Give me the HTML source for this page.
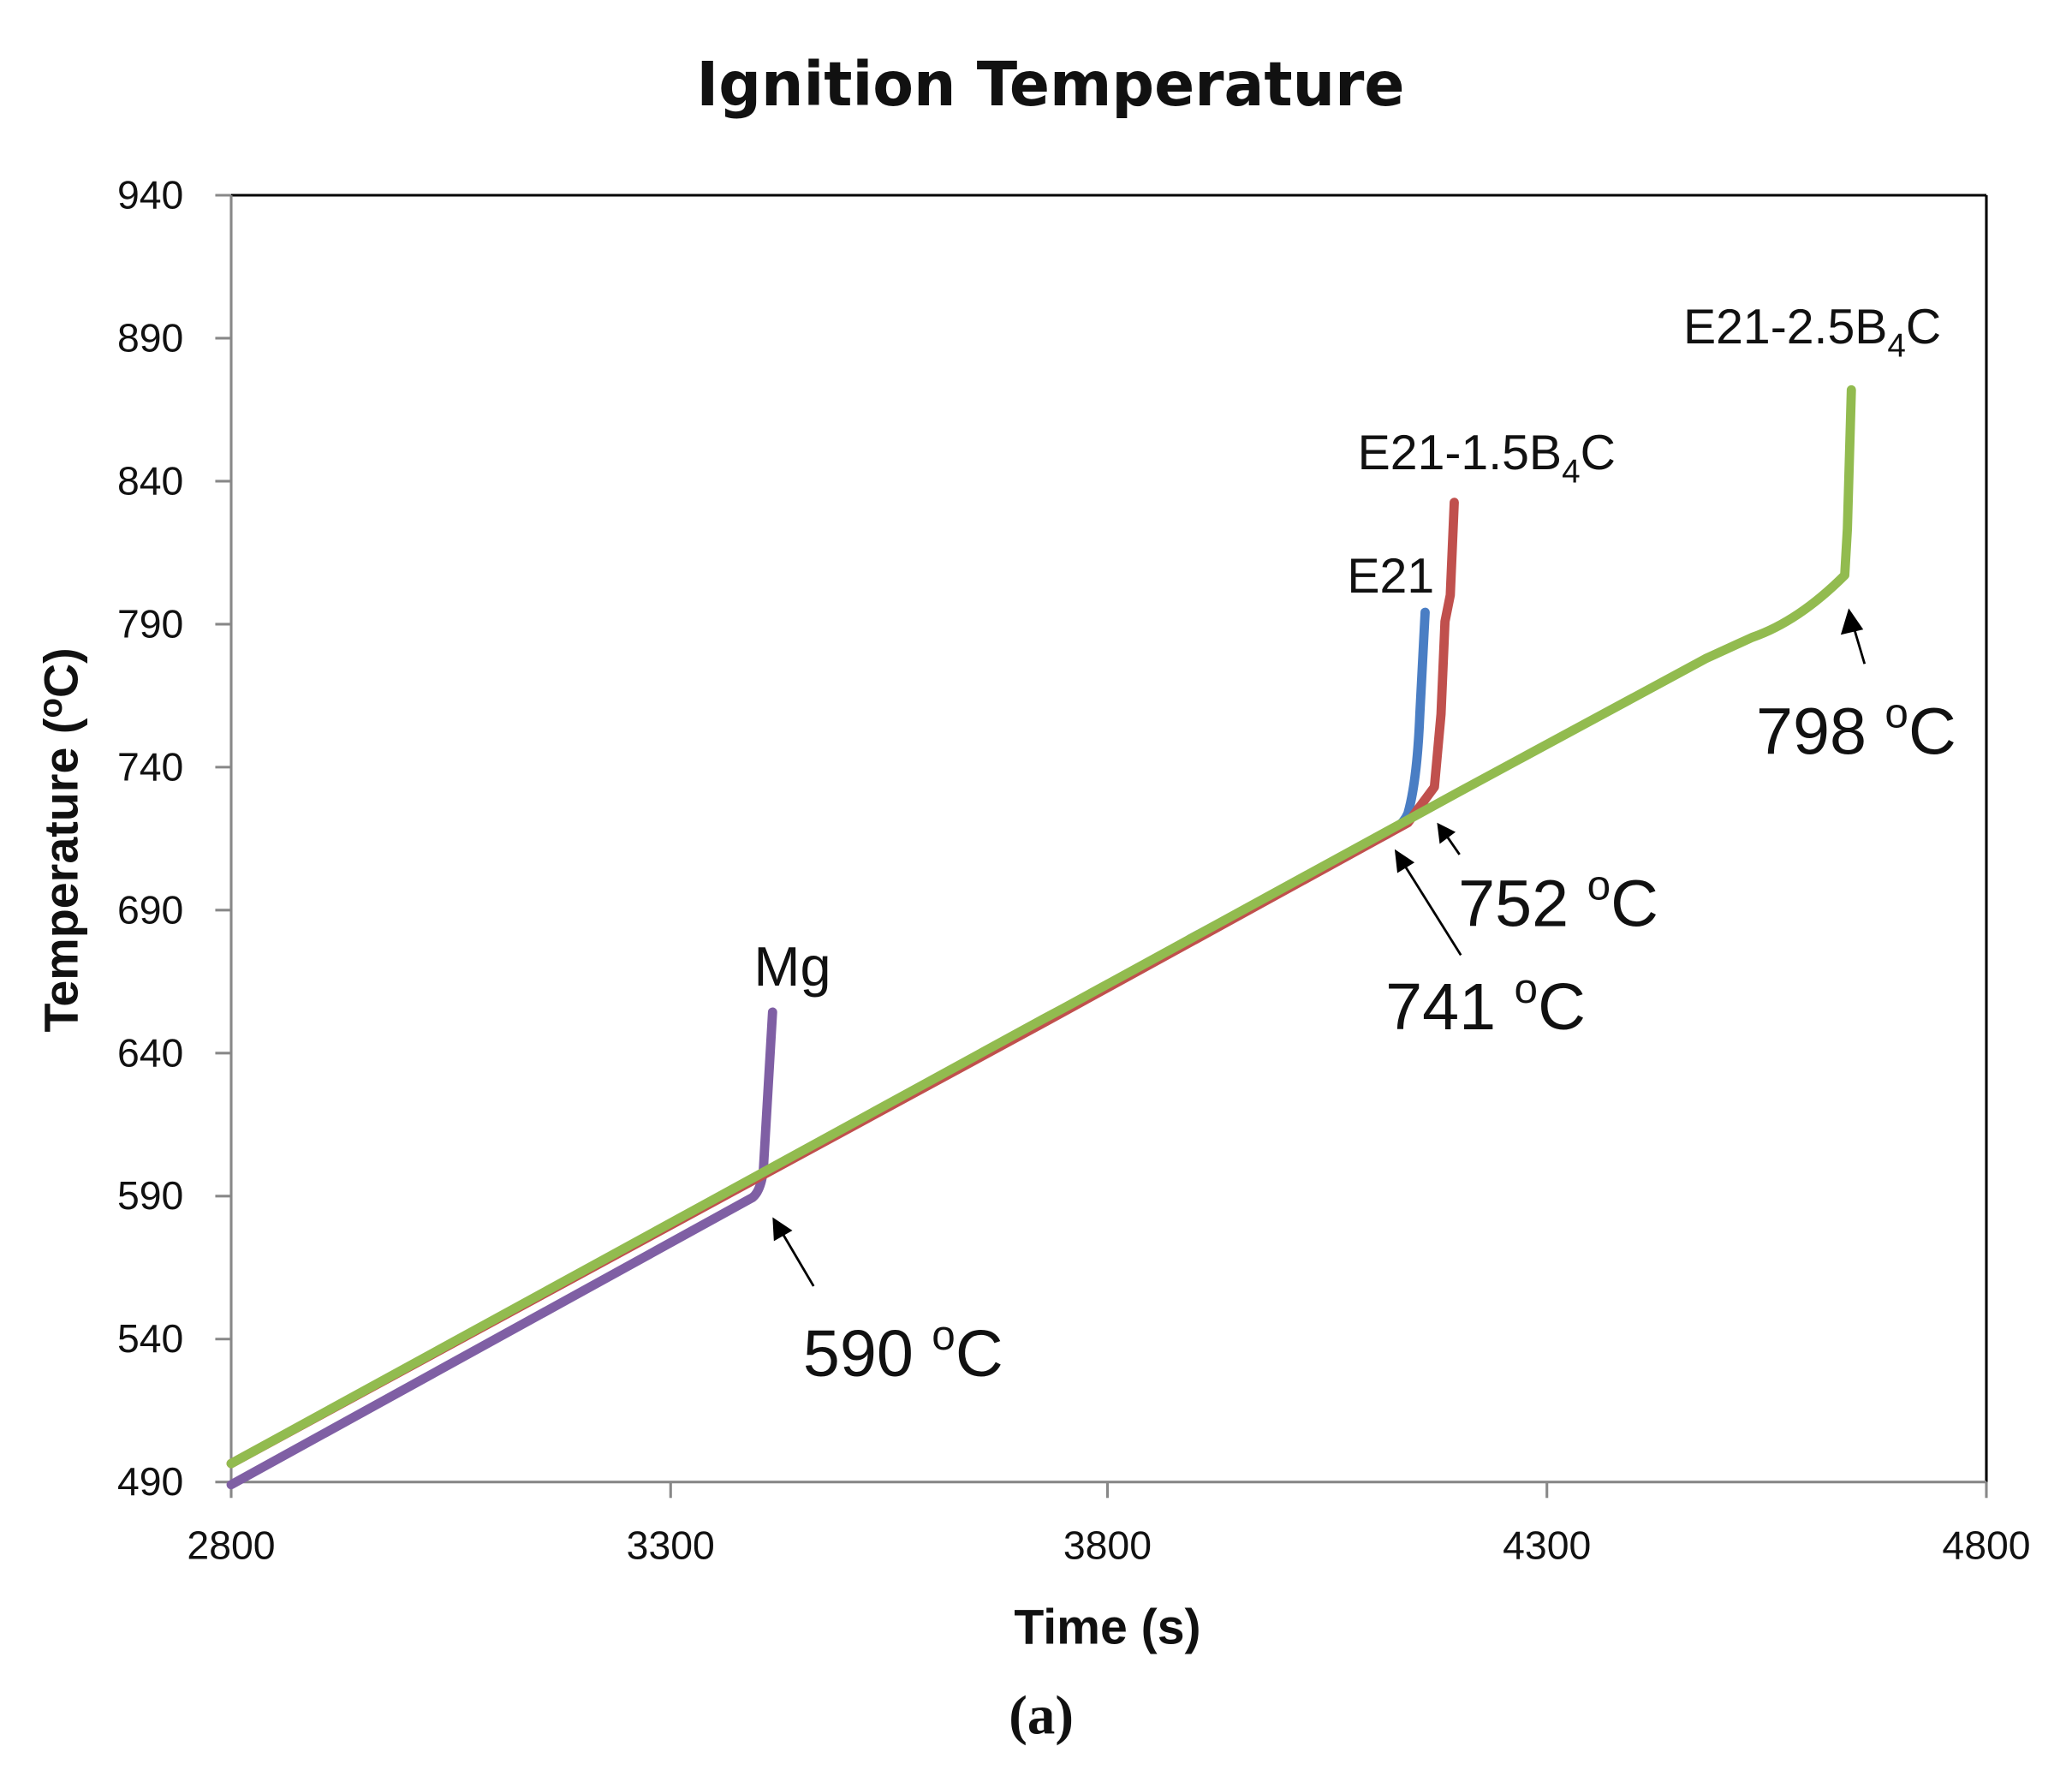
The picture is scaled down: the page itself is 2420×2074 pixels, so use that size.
<!DOCTYPE html>
<html><head><meta charset="utf-8"><style>
html,body{margin:0;padding:0;background:#fff;}
svg{display:block;}
text{font-family:"Liberation Sans","DejaVu Sans",sans-serif;fill:#111;}
</style></head><body>
<svg width="2420" height="2074" viewBox="0 0 2420 2074" xmlns="http://www.w3.org/2000/svg">
<defs>
<marker id="ah" markerWidth="10" markerHeight="10" refX="8" refY="4" orient="auto" markerUnits="userSpaceOnUse">
<path d="M0,0 L9,4 L0,8 z" fill="#000" transform="scale(1.6) translate(-3,-1.5)"/></marker>
</defs>
<g transform="matrix(1.546 0 0 1.546 -2.1 -0.8)">
<text x="795" y="80" font-size="46" font-weight="bold" text-anchor="middle" style="font-family:'DejaVu Sans',sans-serif" textLength="535" lengthAdjust="spacingAndGlyphs">Ignition Temperature</text>
<line x1="176" y1="148" x2="1502" y2="148" stroke="#000" stroke-width="2"/>
<line x1="1502" y1="148" x2="1502" y2="1120" stroke="#000" stroke-width="2"/>
<line x1="176" y1="148" x2="176" y2="1132" stroke="#888" stroke-width="2"/>
<line x1="164" y1="1120" x2="1502" y2="1120" stroke="#888" stroke-width="2"/>
<g stroke="#888" stroke-width="2">
<line x1="164" y1="148" x2="176" y2="148"/><line x1="164" y1="256" x2="176" y2="256"/>
<line x1="164" y1="364" x2="176" y2="364"/><line x1="164" y1="472" x2="176" y2="472"/>
<line x1="164" y1="580" x2="176" y2="580"/><line x1="164" y1="688" x2="176" y2="688"/>
<line x1="164" y1="796" x2="176" y2="796"/><line x1="164" y1="904" x2="176" y2="904"/>
<line x1="164" y1="1012" x2="176" y2="1012"/>
<line x1="508" y1="1120" x2="508" y2="1132"/><line x1="838" y1="1120" x2="838" y2="1132"/>
<line x1="1170" y1="1120" x2="1170" y2="1132"/><line x1="1502" y1="1120" x2="1502" y2="1132"/>
</g>
<g font-size="30" text-anchor="end">
<text x="140" y="158">940</text><text x="140" y="266">890</text><text x="140" y="374">840</text>
<text x="140" y="482">790</text><text x="140" y="590">740</text><text x="140" y="698">690</text>
<text x="140" y="806">640</text><text x="140" y="914">590</text><text x="140" y="1022">540</text>
<text x="140" y="1130">490</text>
</g>
<g font-size="30" text-anchor="middle">
<text x="176" y="1178">2800</text><text x="508" y="1178">3300</text><text x="838" y="1178">3800</text>
<text x="1170" y="1178">4300</text><text x="1502" y="1178">4800</text>
</g>
<text x="838" y="1242" font-size="37" font-weight="bold" text-anchor="middle">Time (s)</text>
<text transform="translate(60,635) rotate(-90)" font-size="36" font-weight="bold" text-anchor="middle">Temperature (<tspan font-size="25" dy="-12">o</tspan><tspan dy="12">C)</tspan></text>
<text x="788" y="1310" font-size="42" font-weight="bold" text-anchor="middle" style="font-family:'Liberation Serif',serif">(a)</text>
<g fill="none" stroke-width="7" stroke-linecap="round" stroke-linejoin="round">
<path d="M176,1122 L570,905 Q576,900 578,885 L585,765" stroke="#7f5fa4"/>
<path d="M900,710 L1040,635 Q1060,627 1065,615 Q1072,590 1074,540 L1078,463" stroke="#4a7ec4"/>
<path d="M176,1106 L790,773 L1065,622 L1085,595 L1090,540 L1093,470 L1097,450 L1100,380" stroke="#c0504d"/>
<path d="M176,1106 L790,770 L805,762 L838,744 L1103,599 L1290,498 L1325,482 Q1360,470 1395,435 L1397,400 L1400,295" stroke="#92bb4f"/>
</g>
<text x="600" y="745" font-size="42" text-anchor="middle">Mg</text>
<text x="1052" y="448" font-size="37" text-anchor="middle">E21</text>
<text x="1027" y="355" font-size="37">E21-1.5B<tspan font-size="25" dy="10">4</tspan><tspan dy="-10">C</tspan></text>
<text x="1273" y="260" font-size="37">E21-2.5B<tspan font-size="25" dy="10">4</tspan><tspan dy="-10">C</tspan></text>
<g font-size="50">
<text x="1328" y="570">798 <tspan font-size="32" dy="-20">o</tspan><tspan dy="20">C</tspan></text>
<text x="1103" y="700">752 <tspan font-size="32" dy="-20">o</tspan><tspan dy="20">C</tspan></text>
<text x="1048" y="778">741 <tspan font-size="32" dy="-20">o</tspan><tspan dy="20">C</tspan></text>
<text x="608" y="1040">590 <tspan font-size="32" dy="-20">o</tspan><tspan dy="20">C</tspan></text>
</g>
<g stroke="#000" stroke-width="1.8">
<line x1="1410" y1="502" x2="1402" y2="475"/>
<line x1="1104" y1="646" x2="1095" y2="633"/>
<line x1="1105" y1="722" x2="1063" y2="655"/>
<line x1="616" y1="972" x2="593" y2="933"/>
</g>
<g fill="#000">
<polygon points="1398,460 1392,480 1409,476"/>
<polygon points="1087,622 1089,638 1101,629"/>
<polygon points="1055,642 1057,660 1070,652"/>
<polygon points="585,920 586,938 600,930"/>
</g>
</g>
</svg>
</body></html>
